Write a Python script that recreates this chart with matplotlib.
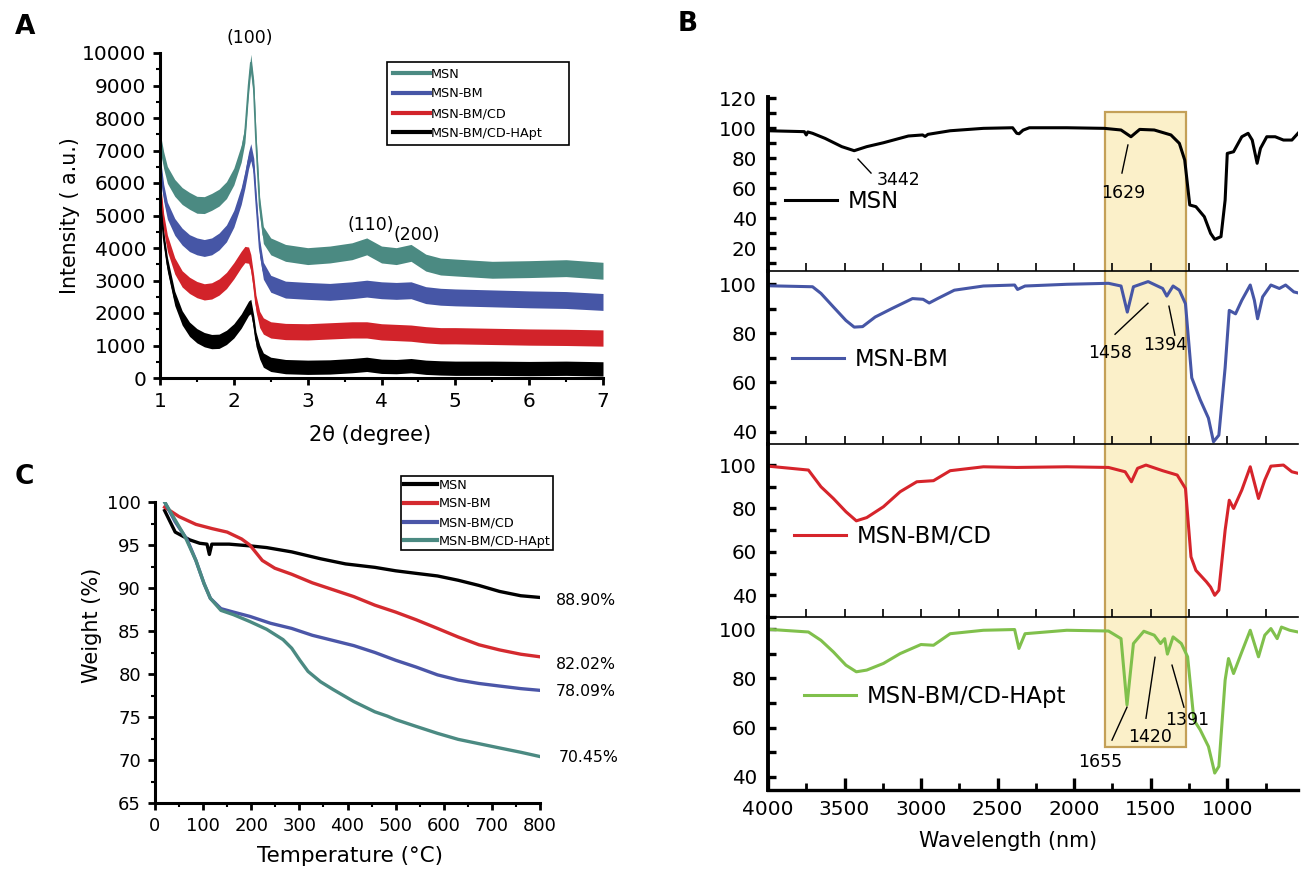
import matplotlib
matplotlib.use("Agg")
import matplotlib.pyplot as plt
from matplotlib.ticker import MultipleLocator
from matplotlib.patches import Rectangle

plt.rcParams['font.family'] = ['DejaVu Sans']

# ---------------- panel A: XRD ----------------
xrd_names = ['MSN', 'MSN-BM', 'MSN-BM/CD', 'MSN-BM/CD-HApt']
xrd_colors = ['#4b8a82', '#4656a6', '#d2232a', '#000000']
two_theta = [1.0, 1.05, 1.1, 1.2, 1.3, 1.4, 1.5, 1.6, 1.7, 1.8, 1.9, 2.0, 2.1, 2.15, 2.2, 2.23,
             2.27, 2.3, 2.35, 2.4, 2.5, 2.7, 3.0, 3.3, 3.6, 3.8, 4.0, 4.2, 4.4, 4.6, 4.8, 5.0,
             5.5, 6.0, 6.5, 7.0]
xrd_msn = [7300, 6700, 6250, 5850, 5600, 5450, 5330, 5320, 5420, 5550, 5780, 6200, 6900, 7500,
           9000, 9700, 8900, 7300, 5300, 4400, 4050, 3850, 3750, 3800, 3900, 4050, 3800, 3750,
           3850, 3550, 3430, 3400, 3330, 3350, 3380, 3300]
xrd_bm = [6600, 5700, 5150, 4650, 4350, 4150, 4050, 4000, 4050, 4200, 4450, 4900, 5600, 6100,
          6700, 6950, 6500, 5500, 4000, 3300, 2900, 2720, 2680, 2650, 2700, 2750, 2700, 2680,
          2700, 2550, 2500, 2480, 2450, 2420, 2400, 2340]
xrd_cd = [5900, 4800, 4150, 3450, 3050, 2850, 2720, 2650, 2680, 2800, 3000, 3300, 3650, 3800,
          3780, 3550, 2900, 2300, 1800, 1600, 1480, 1430, 1420, 1450, 1480, 1480, 1420, 1400,
          1380, 1330, 1300, 1300, 1280, 1260, 1250, 1230]
xrd_hapt = [5600, 4300, 3500, 2450, 1850, 1500, 1300, 1180, 1120, 1130, 1250, 1450, 1750, 1950,
            2150, 2200, 1700, 1200, 800, 550, 420, 350, 330, 340, 380, 420, 360, 350, 380, 330,
            310, 300, 300, 290, 300, 280]
xrd_spread = [260, 260, 250, 220]   # half width of the noise band

# ---------------- panel B: FTIR ----------------
ftir_names = ['MSN', 'MSN-BM', 'MSN-BM/CD', 'MSN-BM/CD-HApt']
ftir_colors = ['#000000', '#4656a6', '#d6242b', '#80c04c']
msn_x = [4000, 3763, 3750, 3740, 3709, 3627, 3518, 3437, 3355, 3246, 3083, 2990, 2974, 2955,
         2810, 2593, 2402, 2375, 2360, 2334, 2293, 2048, 1803, 1694, 1629, 1572, 1477, 1368,
         1313, 1278, 1245, 1205, 1150, 1109, 1082, 1041, 1014, 1000, 959, 905, 864, 837, 805,
         783, 742, 687, 633, 578, 538]
msn_y = [98.4, 97.8, 95.6, 97.6, 96.7, 93.3, 87.8, 85.1, 87.8, 90.4, 94.9, 95.6, 94.6, 96,
         98.4, 100, 100.4, 96.7, 96.4, 98.8, 100.4, 100.4, 100, 98.9, 94.4, 99.3, 98.9, 95.6,
         90, 78.9, 48.9, 47.8, 41.1, 30, 26, 27.8, 52.2, 83.3, 84.4, 94.4, 96.7, 92.2, 76.7,
         86.7, 94.4, 94.4, 92.2, 92.2, 96.7]
bm_x = [4000, 3709, 3654, 3573, 3491, 3437, 3382, 3300, 3192, 3056, 2987, 2947, 2892, 2783,
        2593, 2389, 2370, 2321, 2048, 1776, 1694, 1653, 1613, 1517, 1422, 1395, 1354, 1313,
        1273, 1232, 1177, 1123, 1090, 1055, 1014, 987, 946, 905, 850, 823, 802, 769, 715, 660,
        619, 565, 538]
bm_y = [99.3, 98.9, 96.2, 90.7, 85.2, 82.5, 82.7, 86.6, 90, 94.1, 93.8, 92.3, 94.1, 97.5,
        99.2, 99.6, 97.8, 99.2, 99.9, 100.3, 99.2, 88.6, 98.9, 101, 98.2, 95.1, 99.2, 97.5,
        92, 61.9, 53, 45.5, 35.9, 38.6, 66, 89.3, 87.9, 93.4, 99.6, 93.4, 85.9, 94.8, 99.6,
        98.2, 99.6, 96.8, 96.4]
cd_x = [4000, 3736, 3654, 3573, 3491, 3423, 3355, 3246, 3137, 3028, 2919, 2810, 2593, 2375,
        2048, 1776, 1667, 1626, 1586, 1531, 1422, 1327, 1273, 1237, 1205, 1136, 1109, 1082,
        1055, 1014, 987, 959, 905, 850, 796, 755, 715, 633, 578, 538]
cd_y = [99.5, 97.7, 90, 84.6, 78.5, 74.3, 75.8, 80.8, 87.7, 92.3, 92.8, 97.4, 99.2, 98.9,
        99.2, 98.9, 96.9, 92.3, 98.5, 100, 97.4, 95.4, 89.2, 57.7, 51.5, 46.2, 43.8, 40, 42.3,
        70, 83.8, 80, 88.5, 99.2, 84.6, 93.1, 99.5, 100, 96.9, 96.2]
hapt_x = [4000, 3736, 3654, 3573, 3491, 3423, 3355, 3246, 3137, 3001, 2919, 2810, 2593, 2389,
          2361, 2321, 2048, 1776, 1694, 1655, 1613, 1545, 1477, 1436, 1409, 1391, 1354, 1300,
          1259, 1218, 1177, 1123, 1082, 1055, 1014, 992, 959, 905, 850, 796, 755, 715, 674,
          646, 592, 538]
hapt_y = [100, 98.9, 95.5, 90.8, 85.4, 82.7, 83.4, 86.1, 90.1, 93.8, 93.5, 98.2, 99.6, 99.9,
          92.2, 98.2, 99.6, 99.3, 96.2, 69.2, 94.2, 99.2, 97.6, 94.2, 96.2, 89.9, 96.9, 94.2,
          88.8, 63.1, 59.1, 52.3, 41.5, 44.2, 79.3, 88.1, 82, 90.8, 99.6, 88.8, 97.6, 100.3,
          96.2, 100.9, 99.6, 98.9]
ftir_ylims = [(4.9, 120.9), (35, 105.3), (30, 109.7), (34.6, 105)]
highlight = (1270, 1800)
# (label, line start, line end, text position) per sub panel
ftir_notes = [
    [('3442', (3412, 79.5), (3327, 70.2), (3150, 65.5)),
     ('1629', (1649, 88.9), (1688, 70.2), (1681, 57))],
    [('1458', (1518, 92.2), (1733, 79.6), (1766, 71.8)),
     ('1394', (1381, 91), (1342, 79.2), (1407, 75.1))],
    [],
    [('1655', (1655, 68.3), (1753, 54.9), (1832, 46)),
     ('1420', (1472, 88.6), (1531, 63.8), (1505, 56.1)),
     ('1391', (1361, 85.4), (1283, 68.3), (1263, 63))],
]

# ---------------- panel C: TGA ----------------
tga_names = ['MSN', 'MSN-BM', 'MSN-BM/CD', 'MSN-BM/CD-HApt']
tga_colors = ['#000000', '#d42a2f', '#4b56a8', '#4b8a82']
tga_msn_t = [20, 42, 72, 93, 108, 113, 118, 154, 197, 232, 284, 344, 396, 457, 500, 543, 587,
             630, 673, 716, 760, 800]
tga_msn_w = [99.0, 96.5, 95.6, 95.2, 95.1, 93.9, 95.1, 95.1, 94.9, 94.7, 94.2, 93.4, 92.8,
             92.4, 92.0, 91.7, 91.4, 90.9, 90.3, 89.6, 89.1, 88.9]
tga_bm_t = [20, 50, 85, 119, 150, 180, 197, 223, 249, 284, 327, 370, 413, 457, 500, 543, 587,
            630, 673, 716, 760, 800]
tga_bm_w = [99.4, 98.3, 97.4, 96.9, 96.5, 95.7, 95.0, 93.2, 92.3, 91.6, 90.6, 89.8, 89.0,
            88.0, 87.2, 86.3, 85.3, 84.3, 83.4, 82.8, 82.3, 82.0]
tga_cd_t = [20, 42, 67, 85, 102, 115, 137, 163, 197, 240, 284, 327, 370, 413, 457, 500, 543,
            587, 630, 673, 716, 760, 800]
tga_cd_w = [100, 97.7, 95.6, 93.2, 90.5, 88.8, 87.6, 87.2, 86.7, 85.9, 85.3, 84.5, 83.9, 83.3,
            82.5, 81.6, 80.8, 79.9, 79.3, 78.9, 78.6, 78.3, 78.1]
tga_hapt_t = [20, 42, 63, 85, 102, 115, 137, 163, 197, 232, 266, 284, 301, 318, 344, 370, 413,
              457, 483, 500, 543, 587, 630, 673, 716, 760, 800]
tga_hapt_w = [100, 97.9, 95.9, 93.2, 90.5, 88.8, 87.4, 86.9, 86.1, 85.2, 84.0, 83.0, 81.6,
              80.3, 79.1, 78.2, 76.8, 75.6, 75.1, 74.7, 73.9, 73.1, 72.4, 71.9, 71.4, 70.9, 70.4]
tga_final = ['88.90%', '82.02%', '78.09%', '70.45%']
tga_final_pos = [(833, 88.6), (833, 81.15), (833, 77.95), (838, 70.3)]

fig = plt.figure(figsize=(13.04, 8.73), dpi=100)
W, H = 1304, 873


def add_axes_px(left, top, right, bottom):
    return fig.add_axes([left / W, 1 - bottom / H, (right - left) / W, (bottom - top) / H])


def plain_axes(ax, lw=2.2):
    ax.spines['top'].set_visible(False)
    ax.spines['right'].set_visible(False)
    ax.spines['left'].set_linewidth(lw)
    ax.spines['bottom'].set_linewidth(lw)


# ---- A ----
ax = add_axes_px(160, 53, 603, 378)
xrd_values = [xrd_msn, xrd_bm, xrd_cd, xrd_hapt]
for name, color, vals, spread in zip(xrd_names, xrd_colors, xrd_values, xrd_spread):
    ax.fill_between(two_theta, [v - spread for v in vals], [v + spread for v in vals],
                    color=color, lw=0)
    ax.plot(two_theta, vals, color=color, lw=1.2, label=name)
ax.set_xlim(1, 7)
ax.set_ylim(0, 10000)
ax.xaxis.set_major_locator(MultipleLocator(1))
ax.xaxis.set_minor_locator(MultipleLocator(0.5))
ax.yaxis.set_major_locator(MultipleLocator(1000))
ax.yaxis.set_minor_locator(MultipleLocator(500))
ax.tick_params(which='major', direction='out', length=5, width=2, labelsize=14.5, pad=5)
ax.tick_params(which='minor', direction='out', length=3, width=1.5)
plain_axes(ax)
ax.set_ylabel('Intensity ( a.u.)', fontsize=14.8)
ax.yaxis.set_label_coords(-0.18, 0.5)
ax.set_xlabel('2θ (degree)', fontsize=15)
ax.xaxis.set_label_coords(0.474, -0.145)
ax.text(2.22, 10470, '(100)', ha='center', va='center', fontsize=12.5, clip_on=False)
ax.text(3.85, 4717, '(110)', ha='center', va='center', fontsize=12.5)
ax.text(4.48, 4409, '(200)', ha='center', va='center', fontsize=12.5)
leg = ax.legend(loc='upper left', bbox_to_anchor=(387 / W, 1 - 141 / H, 182 / W, 79 / H),
                bbox_transform=fig.transFigure, mode='expand', fontsize=9.2, fancybox=False,
                edgecolor='black', framealpha=1, handlelength=2.9, handletextpad=0.1,
                labelspacing=0.52, borderpad=0.45, borderaxespad=0)
leg.get_frame().set_linewidth(1.2)
for line in leg.get_lines():
    line.set_linewidth(3)

# ---- B ----
bg = add_axes_px(768, 97, 1298, 790)
bg.set_xlim(4000, 538)
bg.set_ylim(0, 1)
bg.axis('off')
bg.add_patch(Rectangle((highlight[0], 0.062), highlight[1] - highlight[0], 0.916,
                       facecolor='#fbf0c9', edgecolor='#c4a057', lw=1.6))

tops = [97, 271, 444, 617]
bottoms = [271, 444, 617, 790]
ftir_x = [msn_x, bm_x, cd_x, hapt_x]
ftir_y = [msn_y, bm_y, cd_y, hapt_y]
legend_pos = [(0.032, 0.397), (0.045, 0.491), (0.049, 0.468), (0.068, 0.538)]
for i in range(4):
    axb = add_axes_px(768, tops[i], 1298, bottoms[i])
    axb.set_facecolor('none')
    axb.plot(ftir_x[i], ftir_y[i], color=ftir_colors[i], lw=2.2, label=ftir_names[i])
    axb.set_xlim(4000, 538)
    axb.set_ylim(*ftir_ylims[i])
    last = i == 3
    axb.spines['top'].set_visible(False)
    axb.spines['right'].set_visible(False)
    axb.spines['left'].set_linewidth(2.8)
    axb.spines['bottom'].set_linewidth(2.4 if last else 1.2)
    axb.xaxis.set_major_locator(MultipleLocator(500))
    axb.xaxis.set_minor_locator(MultipleLocator(250))
    axb.yaxis.set_major_locator(MultipleLocator(20))
    axb.yaxis.set_minor_locator(MultipleLocator(10))
    axb.tick_params(axis='y', which='both', direction='in', length=6, width=2.4,
                    labelsize=14.3, pad=8)
    if last:
        axb.tick_params(axis='x', which='major', direction='in', length=8.5, width=2.4,
                        labelsize=14.5, pad=7)
        axb.tick_params(axis='x', which='minor', direction='in', length=5, width=2)
        axb.set_xlabel('Wavelength (nm)', fontsize=14.9)
        axb.xaxis.set_label_coords(0.453, -0.237)
    else:
        axb.tick_params(axis='x', which='both', direction='in', length=5.5, width=1.2,
                        labelbottom=False)
    axb.legend(loc='center left', bbox_to_anchor=legend_pos[i], frameon=False, fontsize=16.4,
               handlelength=2.3, handletextpad=0.45, borderpad=0, borderaxespad=0)
    for label, p0, p1, pt in ftir_notes[i]:
        axb.plot([p0[0], p1[0]], [p0[1], p1[1]], color='black', lw=1)
        axb.text(pt[0], pt[1], label, ha='center', va='center', fontsize=12.5)

# ---- C ----
axc = add_axes_px(155, 502, 540, 803)
tga_t = [tga_msn_t, tga_bm_t, tga_cd_t, tga_hapt_t]
tga_w = [tga_msn_w, tga_bm_w, tga_cd_w, tga_hapt_w]
for name, color, t, w in zip(tga_names, tga_colors, tga_t, tga_w):
    axc.plot(t, w, color=color, lw=2.4, label=name)
for text, (tx, ty) in zip(tga_final, tga_final_pos):
    axc.text(tx, ty, text, ha='left', va='center', fontsize=11.3, clip_on=False)
axc.set_xlim(0, 800)
axc.set_ylim(65, 100)
axc.xaxis.set_major_locator(MultipleLocator(100))
axc.xaxis.set_minor_locator(MultipleLocator(50))
axc.yaxis.set_major_locator(MultipleLocator(5))
axc.yaxis.set_minor_locator(MultipleLocator(2.5))
axc.tick_params(which='major', direction='out', length=5, width=2, labelsize=13, pad=5)
axc.tick_params(which='minor', direction='out', length=3, width=1.5)
plain_axes(axc)
axc.set_ylabel('Weight (%)', fontsize=15)
axc.yaxis.set_label_coords(-0.138, 0.59)
axc.set_xlabel('Temperature (°C)', fontsize=15.5)
axc.xaxis.set_label_coords(0.506, -0.142)
legc = axc.legend(loc='upper left', bbox_to_anchor=(401 / W, 1 - 476 / H),
                  bbox_transform=fig.transFigure, fontsize=9.2, fancybox=False,
                  edgecolor='black', framealpha=1, handlelength=2.65, handletextpad=0.1,
                  labelspacing=0.45, borderpad=0.2, borderaxespad=0)
legc.get_frame().set_linewidth(1.2)
for line in legc.get_lines():
    line.set_linewidth(3)

# panel letters
fig.text(25 / W, 1 - 27 / H, 'A', fontsize=19, fontweight='bold', ha='center', va='center')
fig.text(688 / W, 1 - 24 / H, 'B', fontsize=19, fontweight='bold', ha='center', va='center')
fig.text(24 / W, 1 - 477 / H, 'C', fontsize=19, fontweight='bold', ha='center', va='center')

fig.savefig('out.png', dpi=100)
